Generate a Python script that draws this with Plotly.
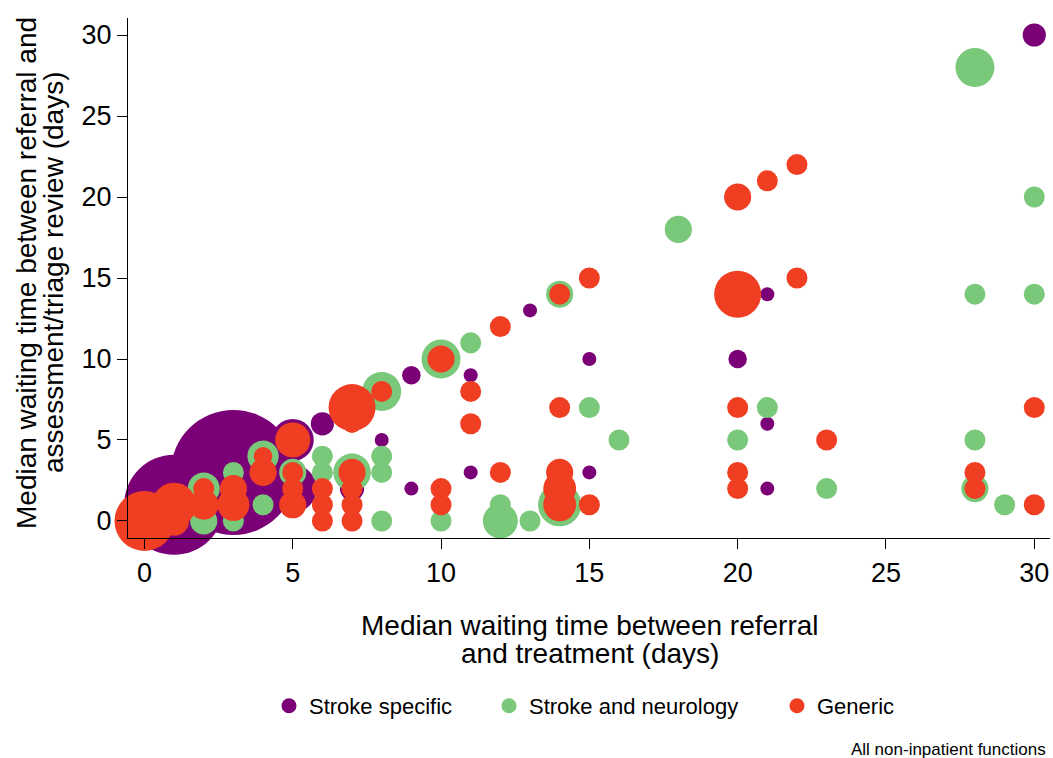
import plotly.graph_objects as go

# Median waits (days): x = referral to treatment, y = referral to assessment/triage review
# n = number of services sharing that pair of medians (drives bubble area)

stroke_x = [30, 21, 20, 15, 13, 11, 9, 8, 6, 9, 11, 15, 21, 21, 7, 3, 1, 5, 5]
stroke_y = [30, 14, 10, 10, 13, 9, 9, 5, 6, 2, 3, 3, 6, 2, 2, 3, 1, 5, 2]
stroke_n = [11, 4, 7, 4, 4, 4, 7, 4, 11, 4, 4, 4, 4, 4, 12, 319, 204, 36, 47]

neuro_x = [28, 30, 30, 28, 18, 28, 28, 29, 23, 21, 20, 16, 15, 14, 14, 13, 12, 12,
           11, 10, 10, 8, 8, 8, 8, 7, 6, 6, 5, 4, 4, 3, 3, 2, 2]
neuro_y = [28, 20, 14, 14, 18, 5, 2, 1, 2, 7, 5, 5, 7, 14, 1, 0, 0, 1,
           11, 10, 0, 8, 4, 3, 0, 3, 4, 3, 3, 4, 1, 3, 0, 2, 0]
neuro_n = [31, 9, 9, 9, 15, 9, 15, 9, 9, 9, 9, 9, 9, 15, 38, 9, 25, 9,
           9, 31, 9, 31, 9, 9, 9, 29, 9, 9, 15, 20, 9, 9, 9, 21, 15]

generic_x = [0, 1, 1, 2, 2, 3, 3, 4, 4, 5, 5, 5, 5, 6, 6, 6, 7, 7, 7, 7, 7, 7,
             8, 10, 10, 10, 11, 11, 12, 12, 14, 15, 14, 14, 14, 14, 15,
             20, 21, 22, 20, 22, 20, 20, 20, 23, 28, 28, 30, 30]
generic_y = [0, 1, 0, 2, 1, 2, 1, 4, 3, 5, 3, 2, 1, 2, 1, 0, 7, 6, 3, 2, 1, 0,
             8, 10, 2, 1, 8, 6, 12, 3, 14, 15, 7, 3, 2, 1, 1,
             20, 21, 22, 14, 15, 7, 3, 2, 5, 3, 2, 7, 1]
generic_n = [73, 40, 18, 9, 18, 15, 21, 7, 15, 25, 9, 9, 15, 9, 9, 9, 45, 7, 15, 9, 9, 9,
             9, 15, 9, 9, 9, 9, 9, 9, 9, 9, 9, 15, 22, 22, 9,
             15, 9, 9, 45, 9, 9, 9, 9, 9, 9, 9, 9, 9]

series = [
    ("Stroke specific", "#7b0077", stroke_x, stroke_y, stroke_n, "legend"),
    ("Stroke and neurology", "#7ac879", neuro_x, neuro_y, neuro_n, "legend2"),
    ("Generic", "#f03e22", generic_x, generic_y, generic_n, "legend3"),
]

FONT = "Liberation Sans, Arial, sans-serif"
SIZEREF = 2 / 49  # diameter = 7 * sqrt(n) px

fig = go.Figure()
for name, colour, xs, ys, ns, _ in series:
    fig.add_trace(go.Scatter(
        x=xs, y=ys, mode="markers", name=name, showlegend=False,
        cliponaxis=False, hoverinfo="x+y+text", text=[f"n={v}" for v in ns],
        marker=dict(size=ns, sizemode="area", sizeref=SIZEREF, color=colour,
                    opacity=1, line=dict(width=0)),
    ))

# Legend entries, one small legend per category so spacing can be set freely
for name, colour, _, _, _, leg in series:
    fig.add_trace(go.Scatter(
        x=[None], y=[None], mode="markers", name=name, legend=leg,
        marker=dict(size=15, color=colour),
    ))

W, H = 1053, 758
L, R, T, B = 128, 3, 18, 220
pw, ph = W - L - R, H - T - B


def px_x(p):
    return (p - L) / pw


def px_y(p):
    return (H - B - p) / ph


legend_common = dict(orientation="h", yanchor="middle", xanchor="left",
                     font=dict(family=FONT, size=22, color="#000"),
                     bgcolor="rgba(0,0,0,0)", borderwidth=0, itemsizing="trace")

fig.update_layout(
    width=W, height=H,
    margin=dict(l=L, r=R, t=T, b=B, pad=0),
    paper_bgcolor="white", plot_bgcolor="white",
    font=dict(family=FONT, color="#000"),
    legend=dict(x=px_x(269), y=px_y(706), **legend_common),
    legend2=dict(x=px_x(489), y=px_y(706), **legend_common),
    legend3=dict(x=px_x(777), y=px_y(706), **legend_common),
    xaxis=dict(range=[-0.553, 30.53], tickvals=[0, 5, 10, 15, 20, 25, 30],
               showgrid=False, zeroline=False, showline=True, linecolor="#000",
               linewidth=1.3, ticks="outside", ticklen=10, tickwidth=1.2,
               tickcolor="#000", tickfont=dict(family=FONT, size=27),
               layer="above traces"),
    yaxis=dict(range=[-1.05, 31.05], tickvals=[0, 5, 10, 15, 20, 25, 30],
               showgrid=False, zeroline=False, showline=True, linecolor="#000",
               linewidth=1.3, ticks="outside", ticklen=10, tickwidth=1.2,
               tickcolor="#000", tickfont=dict(family=FONT, size=27),
               layer="above traces"),
)

annotations = [
    dict(text="Median waiting time between referral", x=px_x(590), y=px_y(625)),
    dict(text="and treatment (days)", x=px_x(590), y=px_y(653)),
    dict(text="Median waiting time between referral and", x=px_x(26), y=px_y(273),
         textangle=-90),
    dict(text="assessment/triage review (days)", x=px_x(53), y=px_y(273),
         textangle=-90),
]
for a in annotations:
    fig.add_annotation(xref="paper", yref="paper", showarrow=False,
                       xanchor="center", yanchor="middle",
                       font=dict(family=FONT, size=28, color="#000"), **a)

fig.add_annotation(text="All non-inpatient functions", xref="paper", yref="paper",
                   x=px_x(1048), y=px_y(749), xanchor="right", yanchor="middle",
                   showarrow=False, font=dict(family=FONT, size=17, color="#000"))

fig.write_html("out.html")
